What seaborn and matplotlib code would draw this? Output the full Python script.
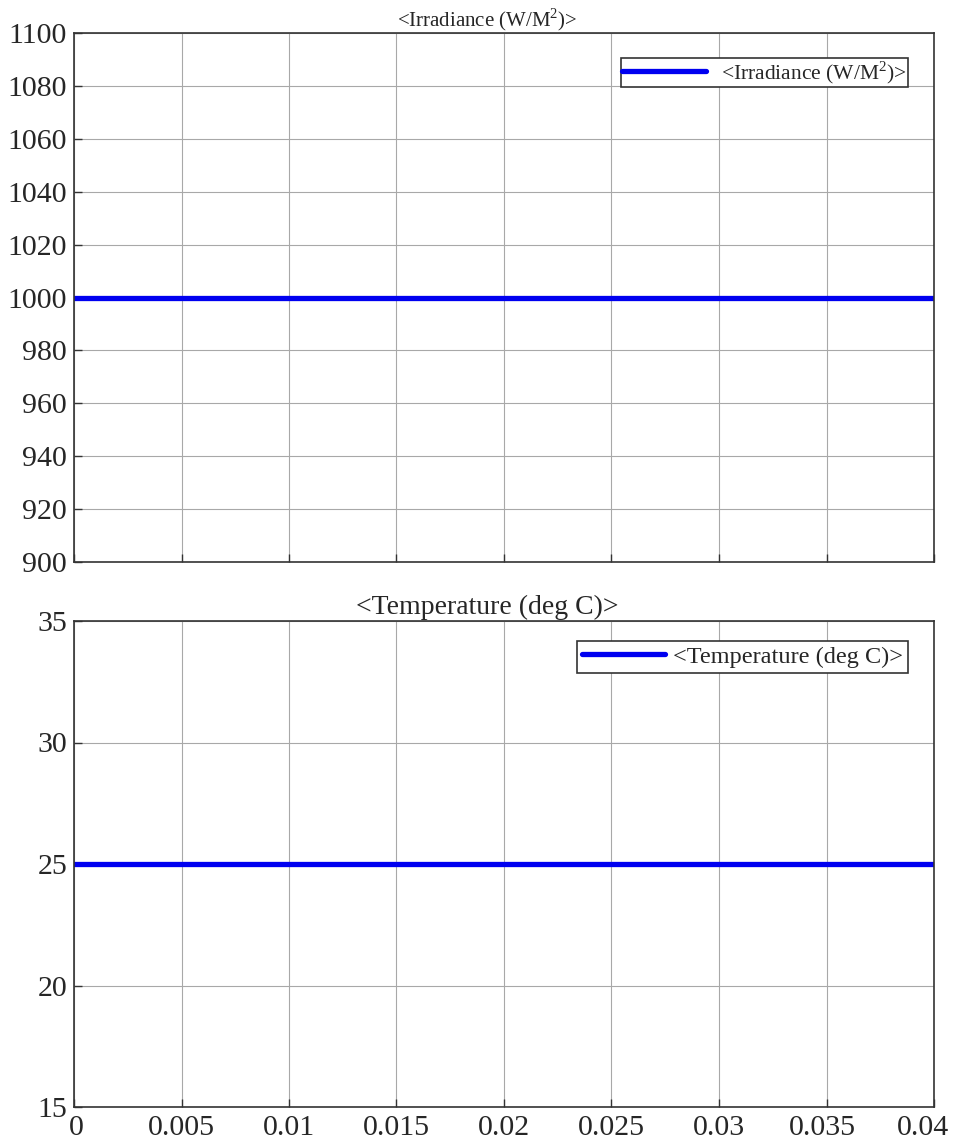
import numpy as np
import pandas as pd
import matplotlib
matplotlib.use("Agg")
import matplotlib.pyplot as plt
import matplotlib.transforms as mtransforms
import seaborn as sns

# Simulation time (s) and the constant PV inputs
time_s = [0.0, 0.005, 0.01, 0.015, 0.02, 0.025, 0.03, 0.035, 0.04]
irradiance = [1000, 1000, 1000, 1000, 1000, 1000, 1000, 1000, 1000]
temperature = [25, 25, 25, 25, 25, 25, 25, 25, 25]

x_ticks = [0, 0.005, 0.01, 0.015, 0.02, 0.025, 0.03, 0.035, 0.04]
x_tick_labels = ["0", "0.005", "0.01", "0.015", "0.02", "0.025", "0.03", "0.035", "0.04"]
irr_ticks = [900, 920, 940, 960, 980, 1000, 1020, 1040, 1060, 1080, 1100]
temp_ticks = [15, 20, 25, 30, 35]

irr_label = "<Irradiance (W/M$^2$)>"
temp_label = "<Temperature (deg C)>"

sns.set_theme(style="whitegrid")
plt.rcParams["font.family"] = ["Liberation Serif", "DejaVu Serif"]
plt.rcParams["mathtext.fontset"] = "custom"
plt.rcParams["mathtext.rm"] = "Liberation Serif"

df_irr = pd.DataFrame({"t": time_s, "v": irradiance})
df_temp = pd.DataFrame({"t": time_s, "v": temperature})

fig = plt.figure(figsize=(9.56, 11.42), dpi=100)
ax1 = fig.add_axes([74 / 956, 1 - 562 / 1142, 860 / 956, 529 / 1142])
ax2 = fig.add_axes([74 / 956, 1 - 1107 / 1142, 860 / 956, 486 / 1142])

blue = "#0000f0"

sns.lineplot(data=df_irr, x="t", y="v", ax=ax1, color=blue, linewidth=3.8, label=irr_label)
sns.lineplot(data=df_temp, x="t", y="v", ax=ax2, color=blue, linewidth=3.8, label=temp_label)

for ax, yt, ylim in [(ax1, irr_ticks, (900, 1100)), (ax2, temp_ticks, (15, 35))]:
    ax.set_xlim(0, 0.04)
    ax.set_ylim(*ylim)
    ax.set_xticks(x_ticks)
    ax.set_yticks(yt)
    ax.set_xlabel("")
    ax.set_ylabel("")
    ax.grid(True, color="#a8a8a8", linewidth=0.8)
    ax.set_facecolor("white")
    for s in ax.spines.values():
        s.set_color("#333333")
        s.set_linewidth(1.2)
    ax.tick_params(axis="both", direction="in", length=6, width=1, color="#333333",
                   labelsize=21.5, pad=5, bottom=True, left=True)

ax1.set_xticklabels([])
ax2.set_xticklabels(x_tick_labels)
ax2.tick_params(axis="x", pad=6)

# nudge the outer tick labels so they stay inside the figure
shifts = {"0": 2, "0.035": -4, "0.04": -11}
for lbl in ax2.get_xticklabels():
    dx = shifts.get(lbl.get_text(), 0)
    if dx:
        lbl.set_transform(lbl.get_transform() +
                          mtransforms.ScaledTranslation(dx / 100, 0, fig.dpi_scale_trans))

ax1.set_title(irr_label, fontsize=15, pad=4, x=0.48)
ax2.set_title(temp_label, fontsize=20, pad=5, x=0.48)

leg1 = ax1.legend(loc="upper right", bbox_to_anchor=(0.970, 0.953), fontsize=15.5,
                  frameon=True, fancybox=False, handlelength=3.9, borderpad=0.05,
                  handletextpad=0.7, borderaxespad=0)
leg2 = ax2.legend(loc="upper right", bbox_to_anchor=(0.970, 0.959), fontsize=17.5,
                  frameon=True, fancybox=False, handlelength=3.4, borderpad=0.2,
                  handletextpad=0.35, borderaxespad=0)
for leg in (leg1, leg2):
    leg.get_frame().set_edgecolor("#333333")
    leg.get_frame().set_linewidth(1.2)
    leg.get_frame().set_alpha(1)

fig.savefig("out.png", dpi=100, facecolor="white")
